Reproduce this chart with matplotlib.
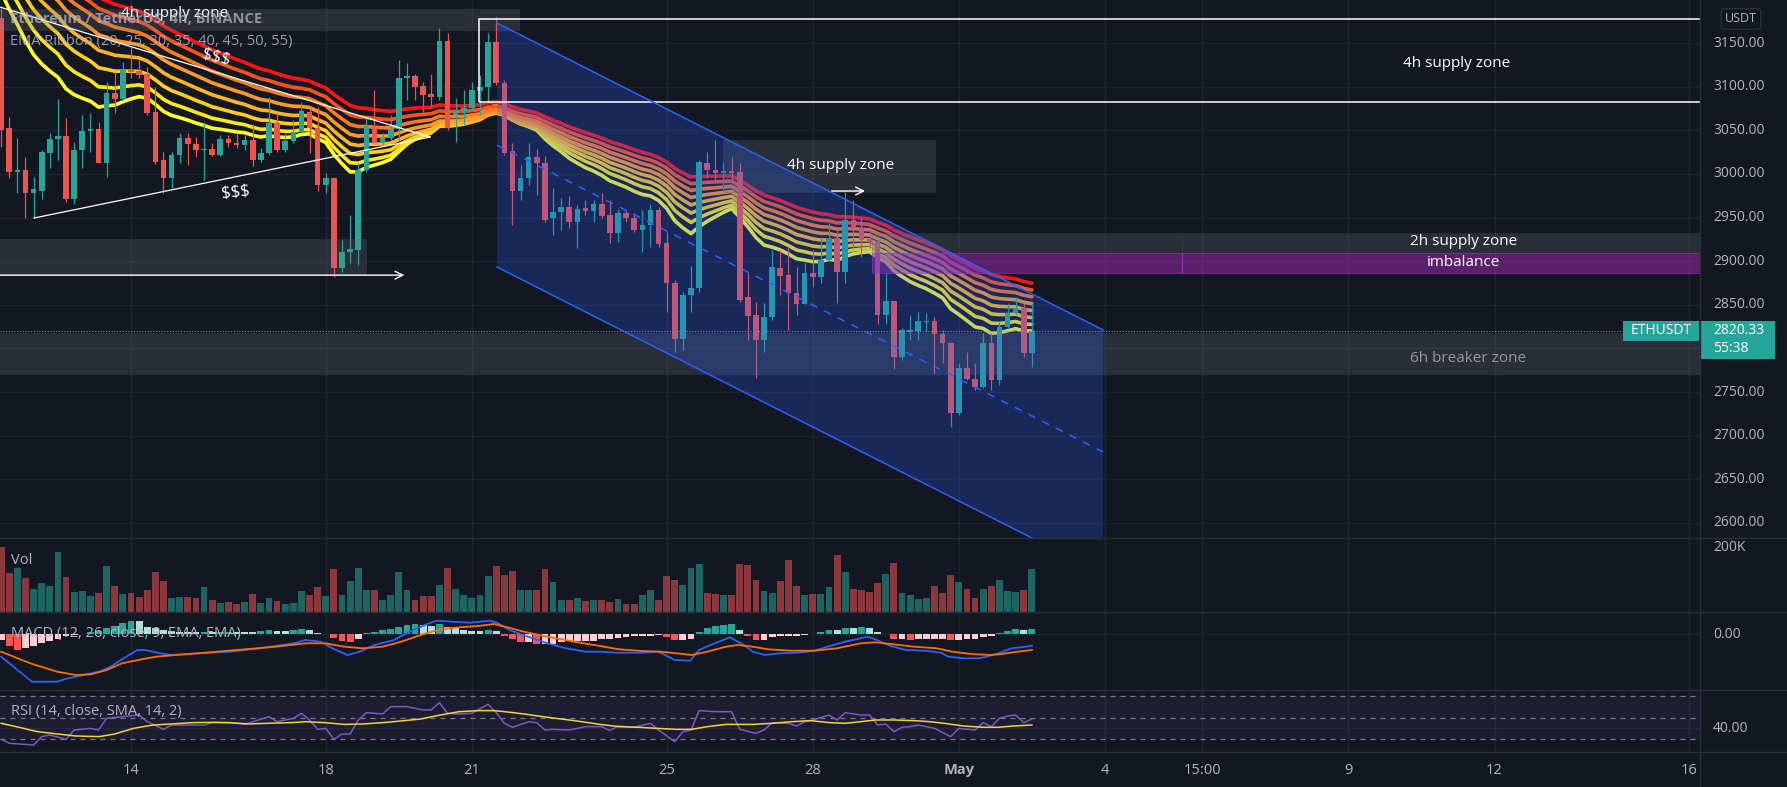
import numpy as np
import pandas as pd
import matplotlib
matplotlib.use('Agg')
import matplotlib.pyplot as plt
from matplotlib.patches import Rectangle, Polygon

plt.rcParams['font.family'] = ['Open Sans', 'DejaVu Sans']

# ETHUSDT 4h candles, 2022-04-11 08:00 .. 2022-05-02 12:00
opens = [3179, 3053, 3002, 3005, 2978, 2981, 3024, 3040, 3044, 2971,
         3027, 3049, 3051, 3012, 3093, 3086, 3119, 3118, 3114, 3071,
         3016, 2995, 3022, 3041, 3034, 3027, 3029, 3022, 3040, 3036,
         3033, 3039, 3016, 3024, 3058, 3027, 3038, 3048, 3071, 3053,
         2987, 2995, 2892, 2910, 2913, 3004, 3054, 3035, 3041, 3052,
         3110, 3112, 3101, 3092, 3088, 3152, 3068, 3070, 3075, 3095,
         3100, 3151, 3104, 3026, 2981, 2995, 3019, 3013, 2949, 2956,
         2962, 2945, 2961, 2958, 2966, 2953, 2932, 2955, 2950, 2936,
         2942, 2959, 2921, 2875, 2811, 2861, 2869, 3012, 3005, 3001,
         3003, 3002, 2859, 2838, 2810, 2836, 2892, 2884, 2864, 2851,
         2887, 2882, 2901, 2927, 2888, 2947, 2938, 2925, 2922, 2838,
         2854, 2790, 2819, 2820, 2830, 2831, 2816, 2806, 2726, 2778,
         2765, 2756, 2806, 2764, 2825, 2841, 2846, 2795]
highs = [3190, 3065, 3041, 3019, 2996, 3027, 3047, 3086, 3064, 3037,
         3067, 3070, 3060, 3105, 3117, 3128, 3145, 3130, 3122, 3100,
         3025, 3025, 3047, 3047, 3042, 3060, 3036, 3045, 3045, 3047,
         3045, 3057, 3030, 3088, 3070, 3047, 3062, 3082, 3077, 3077,
         3001, 2996, 2924, 2953, 3012, 3065, 3096, 3047, 3067, 3131,
         3127, 3115, 3105, 3115, 3167, 3161, 3087, 3096, 3105, 3113,
         3161, 3180, 3108, 3035, 3010, 3035, 3028, 3021, 2984, 2972,
         2975, 2964, 2970, 2970, 2978, 2970, 2960, 2959, 2955, 2959,
         2966, 2962, 2933, 2878, 2865, 2895, 3016, 3025, 3039, 3014,
         3019, 3012, 2886, 2853, 2852, 2913, 2913, 2916, 2893, 2898,
         2913, 2928, 2944, 2939, 2979, 2970, 2950, 2940, 2926, 2886,
         2856, 2823, 2838, 2842, 2841, 2836, 2821, 2807, 2783, 2796,
         2783, 2818, 2818, 2830, 2852, 2859, 2852, 2852]
lows = [3031, 2995, 2978, 2949, 2950, 2971, 3007, 3016, 2968, 2966,
        3007, 3025, 3012, 2996, 3070, 3085, 3110, 3110, 3067, 3011,
        2978, 2984, 3012, 3010, 3019, 2993, 3020, 3020, 3031, 3030,
        3027, 3009, 3014, 3022, 3025, 3025, 3036, 3047, 3024, 2981,
        2978, 2882, 2888, 2898, 2896, 3002, 3035, 3033, 3039, 3039,
        3085, 3085, 3071, 3077, 3085, 3050, 3037, 3056, 3073, 3067,
        3082, 3102, 3022, 2941, 2970, 2987, 2976, 2945, 2930, 2936,
        2938, 2915, 2953, 2945, 2949, 2921, 2922, 2945, 2933, 2911,
        2916, 2916, 2842, 2796, 2798, 2842, 2865, 2995, 2993, 2980,
        2993, 2853, 2810, 2766, 2796, 2833, 2861, 2821, 2838, 2851,
        2870, 2875, 2900, 2852, 2875, 2915, 2905, 2915, 2828, 2828,
        2777, 2787, 2810, 2810, 2819, 2772, 2783, 2710, 2724, 2764,
        2752, 2755, 2752, 2758, 2823, 2838, 2790, 2779]
closes = [3050, 3002, 3005, 2978, 2983, 3025, 3040, 3044, 2971, 3027,
          3049, 3051, 3012, 3093, 3086, 3119, 3117, 3113, 3070, 3014,
          2995, 3022, 3041, 3034, 3027, 3029, 3022, 3040, 3036, 3033,
          3039, 3016, 3024, 3058, 3027, 3038, 3048, 3072, 3053, 2987,
          2995, 2892, 2910, 2914, 3004, 3055, 3035, 3041, 3052, 3110,
          3112, 3100, 3090, 3088, 3152, 3053, 3072, 3075, 3096, 3100,
          3151, 3104, 3024, 2981, 2995, 3019, 3012, 2947, 2956, 2962,
          2945, 2960, 2958, 2966, 2952, 2932, 2955, 2949, 2936, 2942,
          2959, 2920, 2875, 2811, 2861, 2869, 3014, 3005, 3001, 3003,
          3001, 2856, 2837, 2810, 2836, 2893, 2883, 2864, 2851, 2887,
          2882, 2901, 2927, 2888, 2947, 2938, 2924, 2922, 2838, 2854,
          2790, 2821, 2821, 2831, 2832, 2816, 2806, 2726, 2778, 2765,
          2756, 2806, 2764, 2825, 2841, 2846, 2795, 2820.33]
# volume in thousands
volume = [204, 122, 137, 106, 72, 89, 82, 186, 108, 62,
          64, 49, 58, 144, 80, 55, 58, 46, 70, 126,
          96, 44, 48, 47, 45, 77, 39, 27, 31, 24,
          31, 55, 27, 44, 34, 26, 27, 67, 52, 77,
          49, 135, 52, 98, 138, 68, 68, 39, 52, 124,
          70, 39, 49, 49, 85, 137, 73, 52, 44, 52,
          111, 145, 114, 127, 70, 70, 70, 135, 95, 39,
          39, 44, 33, 39, 36, 31, 41, 24, 24, 52,
          70, 39, 111, 101, 85, 137, 150, 58, 55, 52,
          52, 150, 147, 101, 67, 60, 96, 161, 82, 52,
          55, 55, 78, 178, 125, 72, 70, 62, 89, 119,
          152, 60, 52, 41, 44, 80, 60, 116, 94, 72,
          44, 72, 82, 101, 67, 63, 70, 135]

# EMA ribbon lengths and their values just before the first visible bar
ema_lengths = [20, 25, 30, 35, 40, 45, 50, 55]
ema_start = [3225, 3245, 3262, 3276, 3288, 3298, 3306, 3313]

# MACD (bar index, value)
macd_idx = [0, 3.8, 6.9, 7.8, 9.2, 11.1, 12.1, 13.5, 15.4, 16.8, 17.7, 19.6, 21.0, 24.3,
            28.1, 31.9, 34.7, 36.1, 37.5, 39.4, 40.8, 42.7, 44.2, 46.0, 48.4, 50.3, 52.2,
            53.6, 55.5, 57.8, 60.2, 61.1, 62.6, 64.9, 67.3, 69.6, 72.0, 73.8, 75.9, 79.0,
            80.9, 81.8, 83.0, 84.9, 86.0, 87.9, 89.8, 91.5, 92.6, 94.1, 96.0, 98.3, 100.2,
            102.1, 104.0, 105.9, 106.8, 107.7, 109.6, 111.5, 113.9, 115.8, 116.7, 118.6,
            120.5, 121.4, 122.9, 124.5, 125.7, 127.0]
macd_val = [-22.7, -47.7, -47.7, -45.3, -42.7, -39.3, -37.7, -32.7, -22.7, -16, -16, -19.3,
            -21, -19.3, -17.7, -14.3, -11, -9.3, -6, -7.7, -14.3, -21, -17.7, -11, -6, 2.3,
            9, 13.3, 12.3, 11.3, 13.3, 11.3, 4, -2.7, -9.3, -14.3, -17.7, -17.7, -18.7,
            -18.7, -17.7, -21, -26, -26.7, -16, -9.3, -3.3, -11, -17.7, -21, -19.3, -18.7,
            -16.7, -12, -7.7, -4.3, -2.7, -5.3, -12, -16, -16.7, -18.7, -22.7, -24.3,
            -24.3, -22.7, -19.3, -14.3, -13.3, -11.7]
signal_idx = [0, 3.6, 6.9, 9.2, 11.1, 13.0, 14.9, 17.3, 19.1, 21.5, 24.3, 29.1, 33.8, 37.5,
              39.9, 42.3, 44.6, 47.0, 49.3, 51.7, 54.1, 56.4, 58.8, 60.7, 62.1, 64.4, 67.3,
              70.6, 73.8, 76.1, 79.0, 81.3, 83.2, 85.1, 87.0, 89.3, 90.8, 92.6, 94.5, 97.4,
              100.2, 103.0, 105.9, 107.7, 109.6, 112.5, 115.3, 117.2, 119.5, 121.9, 123.3,
              125.2, 127.0]
signal_val = [-17.7, -29.3, -37.7, -41, -40.3, -36, -29.3, -25.3, -22.7, -21, -19.3, -16,
              -12.7, -9.3, -9.3, -12.7, -14.3, -12.7, -7.7, -1, 4.7, 6.7, 8, 10, 7.3, 2.3,
              -2.7, -7.7, -12, -15.3, -17, -17.7, -19.3, -21, -17.7, -12.7, -11, -12.7,
              -15.3, -16.7, -16.7, -14.3, -9.3, -8.3, -10, -12.7, -14.3, -17.7, -20, -21,
              -20, -17.7, -16]
macd_hist = [-5.7, -11.7, -15.7, -14, -12.3, -9, -7.3, -5, -2.3, -0.7,
             0.3, 1.7, 2.7, 6, 8.3, 11, 12.7, 12.7, 7, 6,
             4.3, 3.3, 2.3, 2.3, 1.7, 2, 1.7, 2, 2.3, 2.3,
             2.3, 2.3, 3.3, 3.7, 3.3, 3.3, 4, 5, 3.7, 1,
             -0.3, -4, -7.3, -8.3, -4.7, 1, 2.3, 3.7, 5, 7,
             9.3, 10.3, 9, 8.3, 10.3, 7, 6, 4.3, 3.3, 2.7,
             4.3, 2.7, -1.7, -5, -8.3, -8.3, -9.7, -9.7, -9.7, -8.3,
             -7.3, -7.3, -7.3, -6.7, -5, -5, -4, -3, -2.3, -2.3,
             -1.7, -1.3, -3, -5.7, -5.7, -5, 2.3, 6, 8.3, 9.3,
             10.3, 4.3, -1.7, -5.7, -5.7, -3, -2.3, -2.3, -2.3, -1.3,
             0.3, 2, 4.3, 4.3, 6, 6, 6.7, 6, 2.3, 0.3,
             -5, -5, -5.7, -5, -5, -5, -5, -6.3, -5.7, -5,
             -5, -3, -2.3, 1, 3.3, 5, 4.3, 5.3]

# RSI (bar index, value) and its SMA
rsi_idx = [0, 1, 4, 5, 6, 8, 9, 11, 12, 13, 15, 17, 18, 20, 21, 22, 25, 26, 28, 29,
           30, 33, 34, 36, 37, 38, 39, 40, 41, 42, 43, 44, 45, 47, 48, 50, 52, 53, 54, 55,
           56, 58, 60, 61, 62, 63, 65, 66, 67, 68, 70, 71, 72, 74, 75, 76, 78, 80, 81, 83,
           84, 85, 86, 88, 90, 91, 93, 94, 95, 97, 98, 99, 100, 102, 103, 104, 106, 107,
           108, 109, 110, 111, 112, 113, 115, 117, 118, 120, 121, 122, 123, 124, 125, 126, 127]
rsi_val = [29.7, 26.0, 24.4, 32.2, 33.7, 29.7, 38.4, 39.9, 38.4, 49.2,
           50.8, 52.3, 46.1, 39.0, 43.0, 43.0, 43.0, 45.2, 45.2, 44.6,
           43.6, 50.8, 46.1, 49.2, 53.9, 47.7, 39.0, 39.9, 29.7, 34.7,
           34.7, 47.7, 54.5, 53.3, 60.1, 60.1, 57.0, 57.0, 63.8, 53.9,
           53.3, 53.9, 62.3, 54.5, 44.6, 40.9, 46.1, 45.2, 38.4, 39.0,
           38.4, 39.9, 41.5, 41.5, 37.8, 42.1, 40.9, 44.6, 38.4, 27.5,
           36.8, 38.4, 56.4, 55.4, 55.4, 39.0, 35.3, 38.4, 45.2, 44.6,
           42.1, 46.1, 47.7, 52.3, 47.7, 54.5, 52.3, 52.3, 43.0, 44.0,
           36.8, 40.9, 41.5, 43.0, 39.9, 32.2, 39.9, 38.4, 45.2, 41.5,
           49.2, 51.4, 52.3, 45.2, 48.6]
rsi_ma_idx = [0, 2.2, 4.5, 6.9, 9.2, 12.1, 14.0, 16.3, 18.7, 21.0, 23.4, 26.2, 28.1, 30.5,
              32.8, 35.7, 37.5, 39.9, 42.3, 44.6, 47.0, 49.3, 51.7, 54.1, 56.4, 58.8, 60.7,
              62.1, 64.4, 67.3, 70.6, 73.8, 76.1, 78.5, 80.8, 83.2, 85.1, 87.0, 89.3, 92.6,
              95.0, 97.4, 99.7, 102.1, 104.0, 105.9, 107.7, 110.1, 112.5, 114.4, 116.2,
              118.6, 121.0, 122.9, 124.7, 127.0]
rsi_ma_val = [44.6, 40.9, 36.8, 34.7, 32.8, 32.2, 34.7, 39.9, 43.0, 44.0, 45.2, 45.5,
              45.2, 44.0, 44.6, 45.2, 46.1, 45.2, 43.6, 44.0, 45.2, 46.8, 48.6, 52.3, 55.4,
              56.4, 56.4, 55.4, 53.3, 50.2, 47.1, 43.6, 41.5, 40.9, 39.9, 39.0, 39.0, 41.5,
              43.6, 43.6, 44.6, 46.1, 47.1, 45.2, 44.6, 46.1, 47.7, 47.7, 47.1, 46.1, 44.6,
              42.1, 40.9, 40.9, 42.1, 43.0]

price_ticks = [2600, 2650, 2700, 2750, 2800, 2850, 2900, 2950, 3000, 3050, 3100, 3150]
time_ticks = [14, 18, 21, 25, 28, 31, 34, 36, 39, 42, 46]
time_labels = ['14', '18', '21', '25', '28', 'May', '4', '15:00', '9', '12', '16']

BG = '#131722'
GRID = '#1f232e'
SEP = '#2a2e39'
TXT = '#b2b5be'
UP = '#26a69a'
DN = '#ef5350'
W, H = 1787, 787


def fx(x):
    return x / W


def fy(y):
    return 1 - y / H


def ema(values, n, start):
    a = 2.0 / (n + 1)
    out = []
    prev = start
    for v in values:
        prev = a * v + (1 - a) * prev
        out.append(prev)
    return np.array(out)


dates = pd.date_range('2022-04-11 08:00', periods=len(closes), freq='4h')
t = ((dates - pd.Timestamp('2022-03-31')) / pd.Timedelta('1D')).to_numpy()
t0 = t[0]
o, h, l, c = (np.array(a, dtype=float) for a in (opens, highs, lows, closes))
up = c >= o
col = np.where(up, UP, DN)

fig = plt.figure(figsize=(W / 100, H / 100), dpi=100, facecolor=BG)
pw = 1700 / W
main = fig.add_axes([0, fy(538), pw, 538 / H])
vol = fig.add_axes([0, fy(612), pw, 74 / H])
macd = fig.add_axes([0, fy(690), pw, 78 / H])
rsi = fig.add_axes([0, fy(752), pw, 62 / H])
XL = (11.31, 46.22)
for ax in (main, vol, macd, rsi):
    ax.set_facecolor(BG)
    ax.set_xlim(*XL)
    ax.set_xticks([])
    ax.set_yticks([])
    for s in ax.spines.values():
        s.set_visible(False)
    for g in time_ticks:
        ax.axvline(g, color=GRID, lw=1, zorder=0)

main.set_ylim(2582.8, 3199.3)
vol.set_ylim(0, 231)
macd.set_ylim(-56, 22)
rsi.set_ylim(17.9, 75.6)

for p in price_ticks:
    main.axhline(p, color=GRID, lw=1, zorder=0)
macd.axhline(0, color=GRID, lw=1, zorder=0)
rsi.axhline(40, color=GRID, lw=1, zorder=0)

# ---- main pane ----
ribbon_cols = ['#ffff2e', '#ffe81a', '#ffcf1f', '#ffb526', '#ff9a26', '#ff7a22', '#ff521c', '#ff1414']
for n, s0, rc in zip(ema_lengths, ema_start, ribbon_cols):
    main.plot(t, ema(closes, n, s0), color=rc, lw=2.6, zorder=3, solid_capstyle='round')

main.vlines(t, l, h, colors=col, lw=0.9, zorder=4)
main.bar(t, np.maximum(np.abs(c - o), 1.0), bottom=np.minimum(o, c), width=0.115,
         color=col, zorder=5)

# zones
main.add_patch(Rectangle((10, 2770), 40, 48, fc='#787b86', alpha=0.23, lw=0, zorder=6))
main.add_patch(Rectangle((10, 2884), 8.85, 41.4, fc='#787b86', alpha=0.23, lw=0, zorder=6))
main.add_patch(Rectangle((10, 3164), 11.99, 25, fc='#787b86', alpha=0.23, lw=0, zorder=6))
main.add_patch(Rectangle((26.16, 2979), 4.35, 60, fc='#787b86', alpha=0.23,
                         ec='#4a4e5a', lw=0.8, zorder=6))
for x0, x1 in ((29.22, 35.58), (35.58, 50)):
    main.add_patch(Rectangle((x0, 2909.4), x1 - x0, 22.9, fc='#787b86', alpha=0.23,
                             ec='#434651', lw=0.8, zorder=6))
    main.add_patch(Rectangle((x0, 2886.5), x1 - x0, 22.9, fc='#9c27b0', alpha=0.53,
                             ec='#a23bb8', lw=0.8, zorder=6))
main.add_patch(Rectangle((21.15, 3082.4), 30, 95.1, fill=False, ec='white', lw=1.1, zorder=7))

# parallel channel
ch_t = [21.515, 33.96]
ch_top = [3172.9, 2821.2]
ch_mid = [3033.1, 2681.4]
ch_bot = [2893.3, 2541.6]
main.add_patch(Polygon([(ch_t[0], ch_top[0]), (ch_t[1], ch_top[1]), (ch_t[1], ch_bot[1]),
                        (ch_t[0], ch_bot[0])], closed=True, fc='#2962ff', alpha=0.25,
                       lw=0, zorder=6))
main.plot(ch_t, ch_top, color='#2962ff', lw=1.1, zorder=7)
main.plot(ch_t, ch_bot, color='#2962ff', lw=1.1, zorder=7)
main.plot(ch_t, ch_mid, color='#2962ff', lw=1.1, ls=(0, (5, 5)), zorder=7)

# liquidity lines
main.plot([11.31, 20.14], [3191.2, 3042.3], color='white', lw=0.9, zorder=7)
main.plot([12.01, 20.14], [2949.5, 3042.3], color='white', lw=0.9, zorder=7)
main.text(15.75, 3134, '$$$', color='white', fontsize=12, ha='center', va='center',
          rotation=-14, zorder=8)
main.text(16.14, 2979, '$$$', color='white', fontsize=12, ha='center', va='center',
          rotation=6, zorder=8)
main.annotate('', xy=(19.67, 2884), xytext=(10.5, 2884),
              arrowprops=dict(arrowstyle='->', color='white', lw=1, mutation_scale=14), zorder=8)
main.annotate('', xy=(29.13, 2980.4), xytext=(28.33, 2980.4),
              arrowprops=dict(arrowstyle='->', color='white', lw=1, mutation_scale=14), zorder=8)

# current price line
main.axhline(closes[-1], color='#8a8e99', lw=0.8, ls=(0, (1, 1.5)), zorder=6)

main.text(41.23, 3127, '4h supply zone', color='white', fontsize=11, ha='center',
          va='center', zorder=8)
main.text(28.58, 3010, '4h supply zone', color='white', fontsize=11, ha='center',
          va='center', zorder=8)
main.text(14.9, 3184, '4h supply zone', color='white', fontsize=11, ha='center',
          va='center', zorder=8)
main.text(41.37, 2922, '2h supply zone', color='white', fontsize=11, ha='center',
          va='center', zorder=8)
main.text(41.37, 2899, 'imbalance', color='white', fontsize=11, ha='center',
          va='center', zorder=8)
main.text(41.45, 2789, '6h breaker zone', color='#9598a1', fontsize=11, ha='center',
          va='center', zorder=8)

main.text(fx(10) / pw, 1 - 19 / 538, 'Ethereum / TetherUS, 4h, BINANCE', transform=main.transAxes,
          color='#b2b5be', fontsize=10.5, fontweight='bold', alpha=0.75, va='center', zorder=9)
main.text(fx(10) / pw, 1 - 41 / 538, 'EMA Ribbon (20, 25, 30, 35, 40, 45, 50, 55)',
          transform=main.transAxes, color='#b2b5be', fontsize=10.5, alpha=0.85,
          va='center', zorder=9)

# ---- volume ----
vol.bar(t, volume, width=0.14, color=col, alpha=0.55, lw=0)
vol.text(fx(11) / pw, 1 - 22 / 74, 'Vol', transform=vol.transAxes, color=TXT,
         fontsize=10.5, va='center')

# ---- MACD ----
hist = np.array(macd_hist)
hcol = []
for i, v in enumerate(hist):
    prev = hist[i - 1] if i > 0 else v
    if v >= 0:
        hcol.append('#26a69a' if v > prev else '#b2dfdb')
    else:
        hcol.append('#ff5252' if v < prev else '#ffcdd2')
macd.bar(t, hist, width=0.14, color=hcol, lw=0, zorder=2)
macd.plot(t0 + np.array(macd_idx) / 6, macd_val, color='#2962ff', lw=1.3, zorder=3)
macd.plot(t0 + np.array(signal_idx) / 6, signal_val, color='#ff6d00', lw=1.3, zorder=3)
macd.text(fx(11) / pw, 1 - 22 / 78, 'MACD (12, 26, close, 9, EMA, EMA)', transform=macd.transAxes,
          color=TXT, fontsize=10.5, va='center', zorder=5)

# ---- RSI ----
rsi.axhspan(30, 70, color='#7e57c2', alpha=0.1, lw=0)
for lv in (70, 50, 30):
    rsi.axhline(lv, color='#787b86', lw=0.9, ls=(0, (4, 4)))
rsi.plot(t0 + np.array(rsi_idx) / 6, rsi_val, color='#7e57c2', lw=1.1, zorder=3)
rsi.plot(t0 + np.array(rsi_ma_idx) / 6, rsi_ma_val, color='#f5d23f', lw=1.1, zorder=3)
rsi.text(fx(11) / pw, 1 - 21 / 62, 'RSI (14, close, SMA, 14, 2)', transform=rsi.transAxes,
         color=TXT, fontsize=10.5, va='center', zorder=5)

# ---- time axis ----
for g, lab in zip(time_ticks, time_labels):
    rsi.text(g, -18 / 62, lab, transform=rsi.get_xaxis_transform(), ha='center', va='center',
             color=TXT, fontsize=10.5, fontweight='bold' if lab == 'May' else 'normal')

# ---- right price scale (2800 sits under the last-price tag) ----
ax_x = 1713 / 1700
for p in price_ticks:
    if p == 2800:
        continue
    main.text(ax_x, p, f'{p:.2f}', transform=main.get_yaxis_transform(), color=TXT,
              fontsize=10, va='center', ha='left')
vol.text(ax_x, 200, '200K', transform=vol.get_yaxis_transform(), color=TXT, fontsize=10,
         va='center', ha='left')
macd.text(ax_x, 0, '0.00', transform=macd.get_yaxis_transform(), color=TXT, fontsize=10,
          va='center', ha='left')
rsi.text(ax_x, 40, '40.00', transform=rsi.get_yaxis_transform(), color=TXT, fontsize=10,
         va='center', ha='left')

# pane separators
for yy in (538, 612, 690, 752):
    fig.add_artist(plt.Line2D([0, 1], [fy(yy), fy(yy)], color=SEP, lw=1))
fig.add_artist(plt.Line2D([fx(1700), fx(1700)], [0, 1], color=SEP, lw=1))

fig.text(fx(1741), fy(19), 'USDT', ha='center', va='center', fontsize=9, color=TXT,
         bbox=dict(boxstyle='round,pad=0.3', fc=BG, ec=SEP))

# last price labels
fig.add_artist(Rectangle((fx(1623), fy(341)), fx(76), 20 / H, transform=fig.transFigure,
                         fc=UP, lw=0))
fig.add_artist(Rectangle((fx(1700), fy(359)), fx(75), 38 / H, transform=fig.transFigure,
                         fc=UP, lw=0))
fig.text(fx(1661), fy(331), 'ETHUSDT', ha='center', va='center', fontsize=10, color='white')
fig.text(fx(1713), fy(331), f'{closes[-1]:.2f}', ha='left', va='center', fontsize=10,
         color='white')
fig.text(fx(1713), fy(349), '55:38', ha='left', va='center', fontsize=10, color='white')

fig.savefig('out.png', dpi=100, facecolor=BG)
